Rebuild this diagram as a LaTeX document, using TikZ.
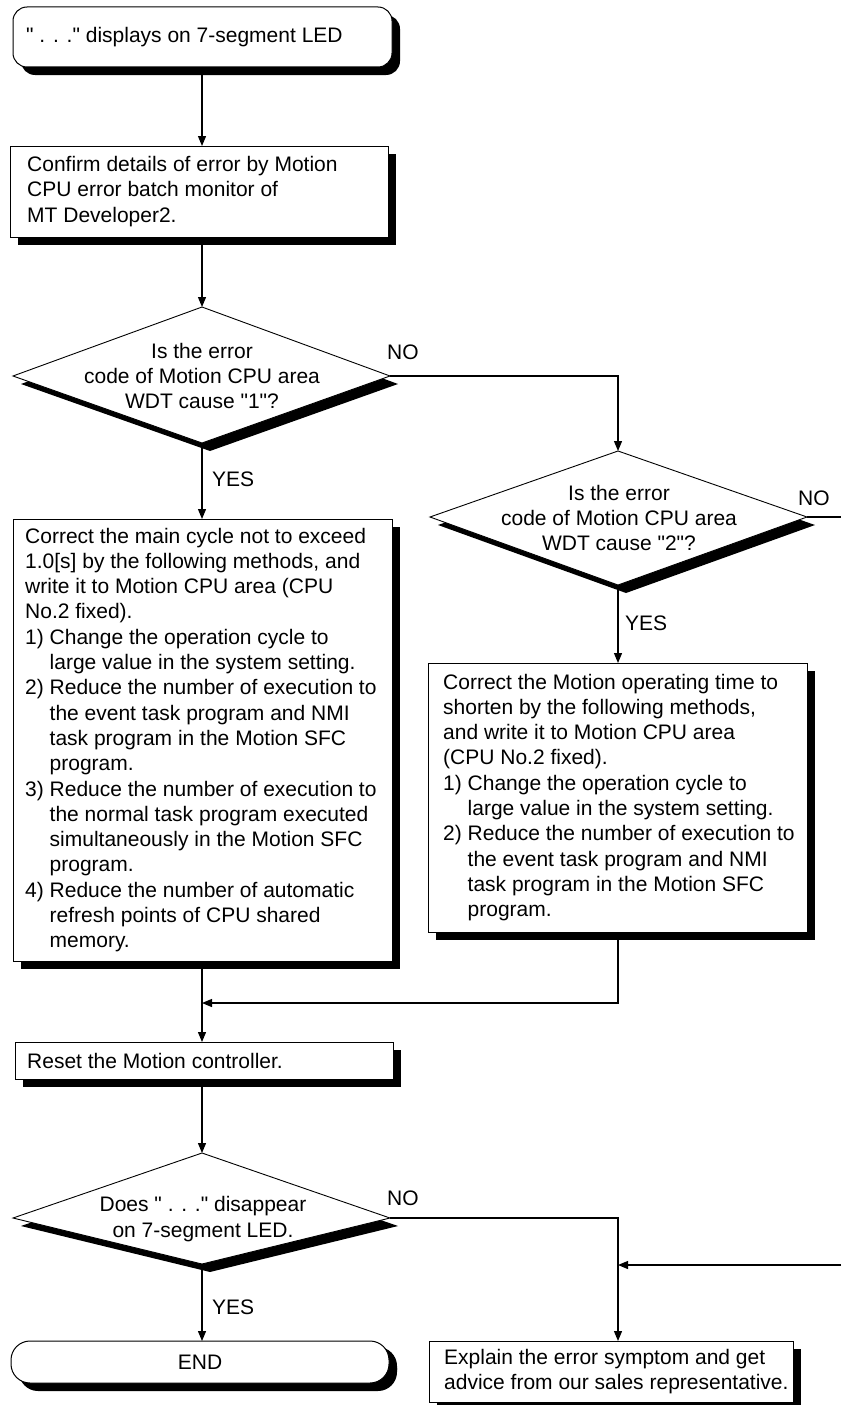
\documentclass[tikz,border=0pt]{standalone}
\usepackage{fontspec}
\setmainfont{Liberation Sans}
\newfontfamily\lib{Liberation Sans}
\usetikzlibrary{shadows,arrows.meta}
\newcommand\myfs{\lib\fontsize{21}{25.3}\selectfont}
\newcommand\myind{\hphantom{1) }}
\newcommand\dq{\symbol{34}}
\newcommand\mydiamond[4]{%
  \fill[black] ([shift={(8,8)}]#1) -- ([shift={(8,8)}]#2) -- ([shift={(8,8)}]#3) -- ([shift={(8,8)}]#4) -- cycle;
  \draw[line width=0.9pt, fill=white] (#1) -- (#2) -- (#3) -- (#4) -- cycle;}
\begin{document}
\begin{tikzpicture}[x=1pt,y=-1pt,
  bx/.style={draw, line width=1pt, fill=white, inner sep=0pt, outer sep=0pt, anchor=north west, font=\myfs,
     general shadow={fill=black, shadow xshift=8pt, shadow yshift=-8pt}},
  txt/.style={inner sep=0pt, anchor=west, align=left, font=\myfs},
  dtxt/.style={inner sep=0pt, align=center, font=\myfs},
  lbl/.style={inner sep=0pt, anchor=west, font=\myfs},
  arr/.style={line width=1.2pt, -{Triangle[length=10pt,width=8pt]}},
  ln/.style={line width=1.2pt}]
\path[use as bounding box, fill=white] (0,0) rectangle (841,1405);

% ---------- boxes ----------
\node[bx, rounded corners=14pt, minimum width=379pt, minimum height=60pt] (start) at (13,7) {};
\node[txt] (startt) at ([xshift=13pt]start.west) {\dq{} . . .\dq{} displays on 7-segment LED};

\node[bx, minimum width=378pt, minimum height=91pt] (confirm) at (10,146) {};
\node[txt] (confirmt) at ([xshift=17pt]confirm.west) {Confirm details of error by Motion\\CPU error batch monitor of\\MT Developer2.};

\node[bx, minimum width=379pt, minimum height=442pt] (boxL) at (13,519) {};
\node[txt] (boxLt) at ([xshift=12pt]boxL.west) {Correct the main cycle not to exceed\\
1.0[s] by the following methods, and\\
write it to Motion CPU area (CPU\\
No.2 fixed).\\
1) Change the operation cycle to\\
\myind large value in the system setting.\\
2) Reduce the number of execution to\\
\myind the event task program and NMI\\
\myind task program in the Motion SFC\\
\myind program.\\
3) Reduce the number of execution to\\
\myind the normal task program executed\\
\myind simultaneously in the Motion SFC\\
\myind program.\\
4) Reduce the number of automatic\\
\myind refresh points of CPU shared\\
\myind memory.};

\node[bx, minimum width=379pt, minimum height=269pt] (boxR) at (428,663) {};
\node[txt] (boxRt) at ([xshift=15pt]boxR.west) {Correct the Motion operating time to\\
shorten by the following methods,\\
and write it to Motion CPU area\\
(CPU No.2 fixed).\\
1) Change the operation cycle to\\
\myind large value in the system setting.\\
2) Reduce the number of execution to\\
\myind the event task program and NMI\\
\myind task program in the Motion SFC\\
\myind program.};

\node[bx, minimum width=378pt, minimum height=37pt] (reset) at (15,1042) {};
\node[txt] (resett) at ([xshift=12pt]reset.west) {Reset the Motion controller.};

\node[bx, rounded corners=19pt, minimum width=378pt, minimum height=42pt,
      general shadow={fill=black, shadow xshift=8pt, shadow yshift=-6pt}] (endn) at (11,1341) {END};

\node[bx, minimum width=364pt, minimum height=61pt] (expl) at (429,1341) {};
\node[txt] (explt) at ([xshift=15pt]expl.west) {Explain the error symptom and get\\advice from our sales representative.};

% ---------- diamonds ----------
\coordinate (d1t) at (202,307); \coordinate (d1r) at (390,376);
\coordinate (d1b) at (202,443); \coordinate (d1l) at (13,376);
\mydiamond{d1t}{d1r}{d1b}{d1l}
\node[dtxt] (d1x) at (202,376) {Is the error\\code of Motion CPU area\\WDT cause \dq{}1\dq{}?};

\coordinate (d2t) at (618,451); \coordinate (d2r) at (807,517);
\coordinate (d2b) at (618,585); \coordinate (d2l) at (430,517);
\mydiamond{d2t}{d2r}{d2b}{d2l}
\node[dtxt] (d2x) at (619,518) {Is the error\\code of Motion CPU area\\WDT cause \dq{}2\dq{}?};

\coordinate (d3t) at (202,1153); \coordinate (d3r) at (390,1218);
\coordinate (d3b) at (202,1264); \coordinate (d3l) at (13,1218);
\mydiamond{d3t}{d3r}{d3b}{d3l}
\node[dtxt] (d3x) at (203,1219) {Does \dq{} . . .\dq{} disappear\\on 7-segment LED.};

% ---------- free ends ----------
\coordinate (off1) at (841,517);
\coordinate (off2) at (841,1265);
\coordinate (join) at (618,1003);

% ---------- connectors ----------
\draw[arr] (start.south -| d1t) -- (confirm.north -| d1t);
\draw[arr] (confirm.south -| d1t) -- (d1t);
\draw[arr] (d1r) -- (d1r -| d2t) -- (d2t);
\draw[arr] (d1b) -- (boxL.north -| d1b);
\draw[ln] (d2r) -- (off1);
\draw[arr] (d2b) -- (boxR.north -| d2b);
\draw[arr] (boxL.south -| d1b) -- (reset.north -| d1b);
\draw[arr] (boxR.south -| d2b) -- (join) -- (join -| d1b);
\draw[arr] (reset.south -| d3t) -- (d3t);
\draw[arr] (d3r) -- (d3r -| d2t) -- (expl.north -| d2t);
\draw[arr] (d3b) -- (endn.north -| d3b);
\draw[arr] (off2) -- (off2 -| d2t);

% ---------- labels ----------
\node[lbl] (no1) at (387,352) {NO};
\node[lbl] (yes1) at (212,479) {YES};
\node[lbl] (no2) at (798,498) {NO};
\node[lbl] (yes2) at (625,623) {YES};
\node[lbl] (no3) at (387,1198) {NO};
\node[lbl] (yes3) at (212,1307) {YES};
\end{tikzpicture}
\end{document}
